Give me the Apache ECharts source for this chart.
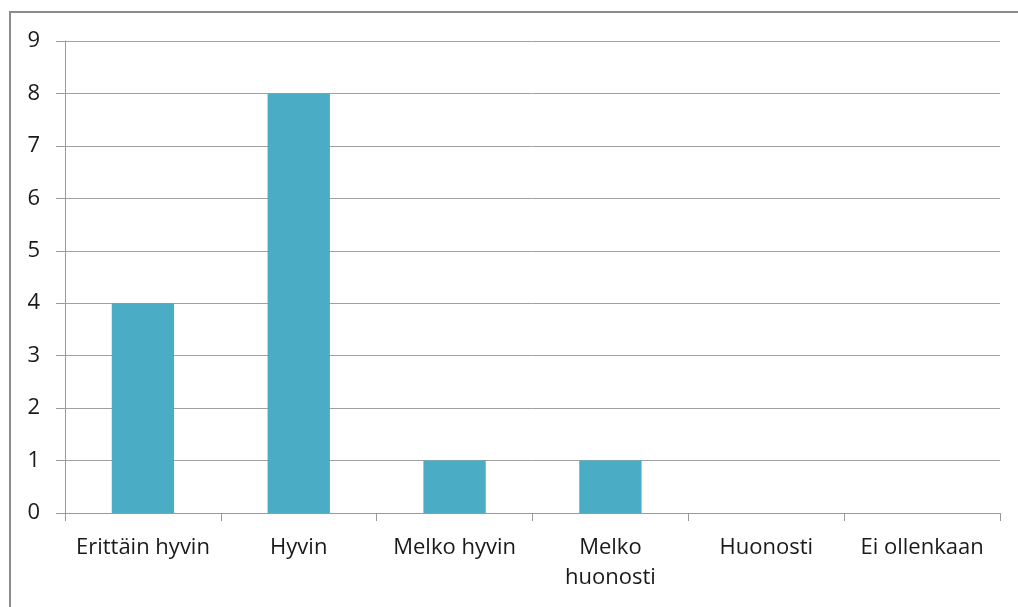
<!DOCTYPE html>
<html><head><meta charset="utf-8">
<script src="https://cdn.jsdelivr.net/npm/echarts@6/dist/echarts.min.js"></script>
<style>
html,body{margin:0;padding:0;background:#fff;}
#frame{position:absolute;left:9px;top:11px;width:1020px;height:610px;border-left:2px solid #8c8c8c;border-top:2px solid #8c8c8c;box-sizing:border-box;}
#c{position:absolute;left:0;top:0;width:1018px;height:607px;}
</style></head>
<body>
<div id="frame"></div>
<div id="c"></div>
<script>
const categories = ['Erittäin hyvin', 'Hyvin', 'Melko hyvin', 'Melko\nhuonosti', 'Huonosti', 'Ei ollenkaan'];
const values = [4, 8, 1, 1, 0, 0];
const yTicks = [0, 1, 2, 3, 4, 5, 6, 7, 8, 9];

const chart = echarts.init(document.getElementById('c'));
chart.setOption({
  animation: false,
  grid: {left: 65, right: 18, top: 41, bottom: 94, containLabel: false},
  xAxis: {
    type: 'category',
    data: categories,
    boundaryGap: true,
    axisLine: {lineStyle: {color: '#9a9a9a', width: 1}},
    axisTick: {show: true, length: 8, alignWithLabel: false, lineStyle: {color: '#9a9a9a'}},
    axisLabel: {color: '#1a1a1a', fontFamily: 'Open Sans', fontSize: 22, margin: 20, lineHeight: 30, interval: 0}
  },
  yAxis: {
    type: 'value',
    min: yTicks[0], max: yTicks[yTicks.length - 1], interval: 1,
    axisLine: {show: true, lineStyle: {color: '#9a9a9a'}},
    axisTick: {show: true, length: 9, inside: false, lineStyle: {color: '#9a9a9a'}},
    splitLine: {show: true, lineStyle: {color: '#a0a0a0', width: 1}},
    axisLabel: {color: '#1a1a1a', fontFamily: 'Open Sans', fontSize: 22, margin: 25}
  },
  series: [{
    type: 'bar',
    data: values,
    barWidth: '40%',
    itemStyle: {color: '#4BACC6'}
  }]
});
</script>
</body></html>
